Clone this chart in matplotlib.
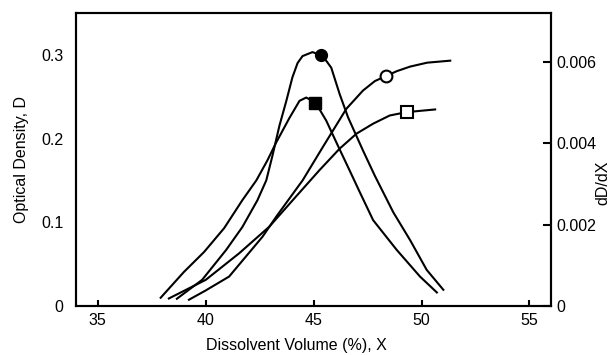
import matplotlib
matplotlib.use("Agg")
import matplotlib.pyplot as plt

plt.rcParams['font.family'] = ['Liberation Sans', 'DejaVu Sans']

# Optical density D vs dissolvent volume X (left axis)
x_d_circle = [39.23, 39.98, 41.09, 42.64, 43.27, 44.50, 45.43, 46.52, 47.29, 47.84,
              48.35, 48.86, 49.47, 50.26, 51.33]
d_circle = [0.0075, 0.0182, 0.0352, 0.0829, 0.1067, 0.1504, 0.1900, 0.2357, 0.2575, 0.2688,
            0.2748, 0.2807, 0.2861, 0.2908, 0.2932]

x_d_square = [38.30, 40.01, 41.56, 42.95, 44.12, 45.28, 46.21, 46.99, 47.76, 48.53,
              49.31, 50.63]
d_square = [0.0090, 0.0313, 0.0631, 0.0948, 0.1289, 0.1625, 0.1881, 0.2060, 0.2179, 0.2277,
            0.2317, 0.2349]

# Derivative dD/dX (right axis)
x_dd_circle = [38.67, 39.84, 40.95, 41.70, 42.40, 42.81, 43.09, 43.42, 43.74, 44.02,
               44.26, 44.49, 44.95, 45.33, 45.60, 45.82, 46.21, 46.60, 47.29, 47.84,
               48.69, 49.47, 50.24, 51.01]
dd_circle = [0.000178, 0.000643, 0.001377, 0.001939, 0.002599, 0.003088, 0.003680, 0.004433,
             0.005044, 0.005620, 0.005973, 0.006144, 0.006242, 0.006169, 0.006020, 0.005858,
             0.005208, 0.004636, 0.003822, 0.003200, 0.002306, 0.001621, 0.000888, 0.000399]

x_dd_square = [37.92, 39.00, 39.93, 40.86, 41.70, 42.35, 42.86, 43.27, 43.88, 44.35,
               44.66, 45.09, 45.59, 46.12, 46.67, 47.14, 47.76, 48.85, 49.93, 50.71]
dd_square = [0.000203, 0.000839, 0.001328, 0.001914, 0.002599, 0.003088, 0.003577, 0.004020,
             0.004620, 0.005044, 0.005125, 0.005002, 0.004555, 0.003950, 0.003333, 0.002800,
             0.002110, 0.001380, 0.000724, 0.000333]

x_ticks = [35, 40, 45, 50, 55]
d_ticks = [0, 0.1, 0.2, 0.3]
d_tick_labels = ['0', '0.1', '0.2', '0.3']
dd_ticks = [0, 0.002, 0.004, 0.006]
dd_tick_labels = ['0', '0.002', '0.004', '0.006']

fs = 11.5

fig = plt.figure(figsize=(6.13, 3.55), dpi=100)
ax = fig.add_axes([0.124, 0.138, 0.775, 0.825])
ax2 = ax.twinx()

lw = 1.5
ax.plot(x_d_circle, d_circle, color='black', lw=lw, marker='o', markevery=[10],
        markersize=8.5, markerfacecolor='white', markeredgewidth=1.5)
ax.plot(x_d_square, d_square, color='black', lw=lw, marker='s', markevery=[10],
        markersize=9, markerfacecolor='white', markeredgewidth=1.5)
ax2.plot(x_dd_circle, dd_circle, color='black', lw=lw, marker='o', markevery=[13],
         markersize=8.5)
ax2.plot(x_dd_square, dd_square, color='black', lw=lw, marker='s', markevery=[11],
         markersize=9)

ax.set_xlim(34, 56)
ax.set_ylim(0, 0.35)
ax2.set_ylim(0, 0.0072)

ax.set_xticks(x_ticks)
ax.set_yticks(d_ticks)
ax.set_yticklabels(d_tick_labels)
ax2.set_yticks(dd_ticks)
ax2.set_yticklabels(dd_tick_labels)

ax.tick_params(axis='x', direction='in', length=4.5, width=1.5, pad=5, labelsize=fs)
ax.tick_params(axis='y', direction='in', length=0, pad=9, labelsize=fs)
ax2.tick_params(axis='y', direction='in', length=5.5, width=1.5, pad=3.5, labelsize=fs)

for a in (ax, ax2):
    for s in a.spines.values():
        s.set_linewidth(1.5)

ax.set_xlabel('Dissolvent Volume (%), X', fontsize=fs)
ax.xaxis.set_label_coords(0.463, -0.11)
ax.set_ylabel('Optical Density, D', fontsize=fs)
ax.yaxis.set_label_coords(-0.1, 0.5)
ax2.set_ylabel('dD/dX', fontsize=fs)
ax2.yaxis.set_label_coords(1.094, 0.42)

fig.savefig('out.png', dpi=100)
